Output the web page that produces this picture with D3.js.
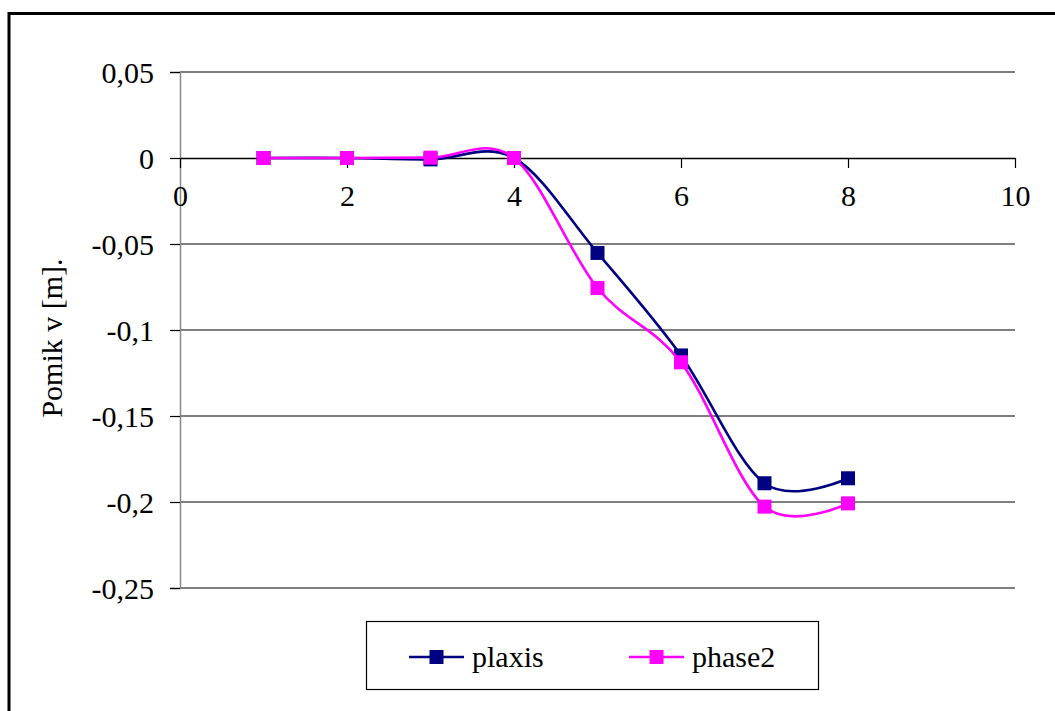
<!DOCTYPE html>
<html>
<head>
<meta charset="utf-8">
<script src="https://cdn.jsdelivr.net/npm/d3@7"></script>
<style>
  html, body { margin: 0; padding: 0; background: #fff; }
  svg { display: block; }
  text { font-family: "Liberation Serif", "Times New Roman", serif; fill: #000; }
</style>
</head>
<body>
<svg id="chart" width="1055" height="711"></svg>
<script>
// Measurement points and vertical displacements
const points = [1, 2, 3, 4, 5, 6, 7, 8];
const plaxis = [0, 0, -0.0008, 0, -0.0552, -0.1148, -0.1891, -0.1862];
const phase2 = [0, 0, 0.0002, 0, -0.0756, -0.1188, -0.2027, -0.2008];
const xTicks = [0, 2, 4, 6, 8, 10];
const yTicks = [0.05, 0, -0.05, -0.1, -0.15, -0.2, -0.25];
const seriesNames = ["plaxis", "phase2"];
const seriesColors = ["#000080", "#FF00FF"];
const yTitle = "Pomik v [m].";

const svg = d3.select("#chart");
const fmt = v => String(v).replace(".", ",");

const x = d3.scaleLinear().domain([0, 10]).range([180, 1015]);
const y = d3.scaleLinear().domain([-0.25, 0.05]).range([588, 72]);

// Outer frame (only top and left edges fall inside the view)
svg.append("path")
  .attr("d", "M9,711 V13.5 H1055")
  .attr("fill", "none").attr("stroke", "#000").attr("stroke-width", 3);

// Horizontal gridlines
svg.append("g").selectAll("line")
  .data(yTicks.filter(d => d !== 0))
  .join("line")
  .attr("x1", x(0)).attr("x2", x(10))
  .attr("y1", d => y(d)).attr("y2", d => y(d))
  .attr("stroke", "#000").attr("stroke-width", 1.2);

// Y axis (gray line, ticks to the left)
const yAxis = d3.axisLeft(y).tickValues(yTicks).tickSize(10).tickPadding(16).tickFormat(fmt);
const gy = svg.append("g").attr("transform", `translate(${x(0)},0)`).call(yAxis);
gy.select(".domain").attr("stroke", "#888").attr("stroke-width", 1.5);
gy.selectAll(".tick line").attr("stroke", "#000").attr("stroke-width", 1.2);
gy.selectAll(".tick text")
  .attr("font-size", 30).attr("font-family", "Liberation Serif").attr("fill", "#000")
  .attr("dy", "0.34em");

// X axis along y = 0, ticks pointing down
const xAxis = d3.axisBottom(x).tickValues(xTicks).tickSize(10).tickPadding(24).tickSizeOuter(0);
const gx = svg.append("g").attr("transform", `translate(0,${y(0)})`).call(xAxis);
gx.select(".domain").attr("stroke", "#000").attr("stroke-width", 1.5);
gx.selectAll(".tick line").attr("stroke", "#000").attr("stroke-width", 1.2);
gx.selectAll(".tick text")
  .attr("font-size", 30).attr("font-family", "Liberation Serif").attr("fill", "#000")
  .attr("dy", "0.45em");

// Y axis title
svg.append("text")
  .attr("transform", `translate(62,338) rotate(-90)`)
  .attr("text-anchor", "middle")
  .attr("font-size", 30)
  .text(yTitle);

// Smoothed series lines with square markers
const line = d3.line()
  .x(d => x(d[0])).y(d => y(d[1]))
  .curve(d3.curveCatmullRom.alpha(0));

const series = [plaxis, phase2];
series.forEach((vals, i) => {
  const data = points.map((p, j) => [p, vals[j]]);
  svg.append("path")
    .datum(data)
    .attr("d", line)
    .attr("fill", "none")
    .attr("stroke", seriesColors[i])
    .attr("stroke-width", 2.6);
  svg.append("g").selectAll("rect")
    .data(data)
    .join("rect")
    .attr("x", d => x(d[0]) - 7)
    .attr("y", d => y(d[1]) - 7)
    .attr("width", 14).attr("height", 14)
    .attr("fill", seriesColors[i]);
});

// Legend
const lg = svg.append("g");
lg.append("rect")
  .attr("x", 366.5).attr("y", 621.5).attr("width", 452).attr("height", 68)
  .attr("fill", "#fff").attr("stroke", "#000").attr("stroke-width", 1.2);
const legendX = [409, 629];
seriesNames.forEach((name, i) => {
  const lx = legendX[i], ly = 657;
  lg.append("line")
    .attr("x1", lx).attr("x2", lx + 55).attr("y1", ly).attr("y2", ly)
    .attr("stroke", seriesColors[i]).attr("stroke-width", 2.6);
  lg.append("rect")
    .attr("x", lx + 27.5 - 7).attr("y", ly - 7).attr("width", 14).attr("height", 14)
    .attr("fill", seriesColors[i]);
  lg.append("text")
    .attr("x", lx + 63).attr("y", ly + 10)
    .attr("font-size", 30)
    .text(name);
});
</script>
</body>
</html>
